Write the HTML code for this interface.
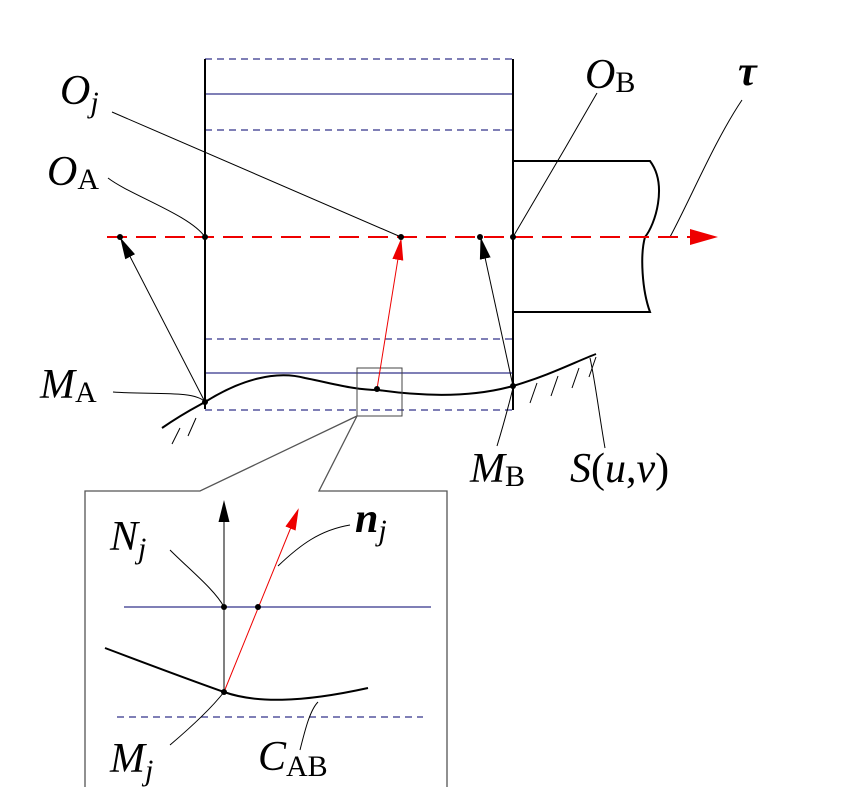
<!DOCTYPE html>
<html><head><style>body{margin:0;background:#fff}svg{display:block}</style></head><body>
<svg width="864" height="787" viewBox="0 0 864 787" xmlns="http://www.w3.org/2000/svg">
<defs>
<marker id="ab" markerWidth="22" markerHeight="12" refX="20" refY="6" orient="auto" markerUnits="userSpaceOnUse" viewBox="0 0 22 12"><path d="M0,0.5 L22,6 L0,11.5z" fill="#000"/></marker>
<marker id="ar" markerWidth="22" markerHeight="12" refX="20" refY="6" orient="auto" markerUnits="userSpaceOnUse" viewBox="0 0 22 12"><path d="M0,0.5 L22,6 L0,11.5z" fill="#e00"/></marker>
</defs>
<g stroke="#33338a" stroke-width="1.2" fill="none">
<line x1="205" y1="59" x2="513" y2="59" stroke-dasharray="7,5"/>
<line x1="205" y1="94" x2="513" y2="94"/>
<line x1="205" y1="130" x2="513" y2="130" stroke-dasharray="7,5"/>
<line x1="205" y1="339" x2="513" y2="339" stroke-dasharray="7,5"/>
<line x1="205" y1="373" x2="513" y2="373"/>
<line x1="205" y1="410" x2="513" y2="410" stroke-dasharray="7,5"/>
<line x1="124" y1="607" x2="431" y2="607"/>
<line x1="117" y1="717" x2="423" y2="717" stroke-dasharray="7,5"/>
</g>
<g stroke="#000" stroke-width="2" fill="none">
<line x1="205" y1="59" x2="205" y2="409"/>
<line x1="513" y1="59" x2="513" y2="410"/>
<path d="M513,161 H650 C668,185 655,225 645,237 C640,255 642,290 650,312 H513"/>
<path d="M162,428 C185,412 200,405 205,402 C240,380 275,370 305,378 C335,384 355,390 378,390 C420,396 470,398 513,386 C550,375 575,362 596,354"/>
<path d="M105,648 C150,665 190,680 224,692 C255,703 300,703 368,688"/>
</g>
<g stroke="#000" stroke-width="1" fill="none">
<path d="M180,428 l-8,16 M196,418 l-8,18 M537,383 l-7,20 M558,376 l-7,20 M579,368 l-7,20 M596,357 l-7,20"/>
<rect x="357" y="368" width="45" height="48" stroke="#444"/>
<path d="M357,416 L200,491 H85 V787 M357,416 L319,491 H447 V787" stroke="#555" stroke-width="1.3"/>
<line x1="205" y1="402" x2="121" y2="239" marker-end="url(#ab)"/>
<line x1="513" y1="386" x2="481" y2="239" marker-end="url(#ab)"/>
<line x1="224" y1="692" x2="224" y2="502" marker-end="url(#ab)"/>
<path d="M112,112 L401,237 M108,178 C130,195 190,215 205,237 M113,392 C150,395 195,390 205,402 M597,93 C570,140 535,200 513,237 M742,100 C715,140 690,200 670,237 M497,446 C505,420 510,400 513,388 M605,448 C600,420 595,380 590,358 M170,550 C190,570 215,590 224,607 M350,525 C320,530 300,545 278,566 M170,745 C190,728 210,710 224,692 M300,750 C305,730 310,710 318,702"/>
</g>
<line x1="107" y1="237" x2="690" y2="237" stroke="#e00" stroke-width="2" stroke-dasharray="20,9"/>
<path d="M690,229 L718,237 L690,245z" fill="#e00"/>
<line x1="377" y1="389" x2="401" y2="240" stroke="#e00" stroke-width="1" marker-end="url(#ar)"/>
<line x1="224" y1="692" x2="298" y2="510" stroke="#e00" stroke-width="1" marker-end="url(#ar)"/>
<g fill="#000">
<circle cx="120" cy="237" r="3"/><circle cx="205" cy="237" r="3"/><circle cx="401" cy="237" r="3"/><circle cx="480" cy="237" r="3"/><circle cx="513" cy="237" r="3"/>
<circle cx="205" cy="402" r="3"/><circle cx="377" cy="389" r="3"/><circle cx="513" cy="386" r="3"/>
<circle cx="224" cy="607" r="3"/><circle cx="258" cy="607" r="3"/><circle cx="224" cy="692" r="3"/>
</g>
<g font-size="42" font-family="'Liberation Serif', 'DejaVu Serif', serif" font-style="italic" fill="#000">
<text x="60" y="104">O<tspan font-size="30" dy="8">j</tspan></text>
<text x="47" y="185">O<tspan font-size="30" font-style="normal" dy="4">A</tspan></text>
<text x="40" y="398">M<tspan font-size="30" font-style="normal" dy="4">A</tspan></text>
<text x="585" y="88">O<tspan font-size="30" font-style="normal" dy="4">B</tspan></text>
<text x="738" y="85" font-weight="bold">τ</text>
<text x="470" y="482">M<tspan font-size="30" font-style="normal" dy="4">B</tspan></text>
<text x="570" y="482">S<tspan font-style="normal">(</tspan>u<tspan font-style="normal">,</tspan>v<tspan font-style="normal">)</tspan></text>
<text x="110" y="550">N<tspan font-size="30" dy="8">j</tspan></text>
<text x="355" y="532" font-weight="bold">n<tspan font-size="30" font-weight="normal" dy="8">j</tspan></text>
<text x="110" y="772">M<tspan font-size="30" dy="8">j</tspan></text>
<text x="258" y="770">C<tspan font-size="30" font-style="normal" dy="6">AB</tspan></text>
</g>
</svg>
</body></html>
